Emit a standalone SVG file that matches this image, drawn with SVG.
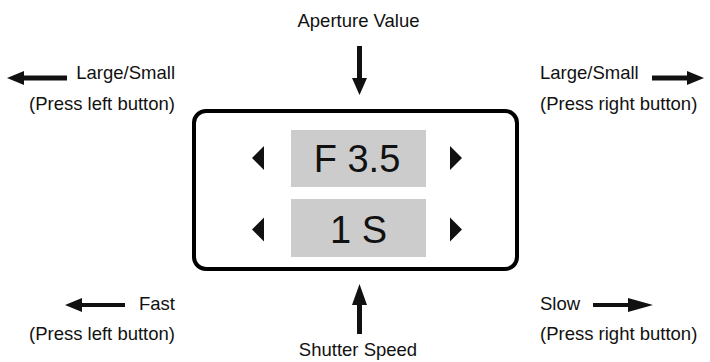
<svg xmlns="http://www.w3.org/2000/svg" width="710" height="362" viewBox="0 0 710 362">
<style>
text{font-family:"Liberation Sans",Arial,sans-serif;fill:#111}
.lbl{font-size:18.5px}
.big{font-size:38px;text-anchor:middle}
.cell{fill:#cccccc}
.tri{fill:#111}
.arr{fill:#111}
</style>
<rect width="710" height="362" fill="#fff"/>
<g id="display">
<rect x="194" y="111" width="323" height="158" rx="12" ry="12" fill="none" stroke="#000" stroke-width="4"/>
</g>
<g id="aperture-cell">
<rect class="cell" x="291" y="130" width="135" height="57"/>
<text class="big" x="357" y="172">F 3.5</text>
<polygon class="tri" points="252,158 264,146 264,170"/>
<polygon class="tri" points="462,158 450,146 450,170"/>
</g>
<g id="shutter-cell">
<rect class="cell" x="291" y="199" width="135" height="58"/>
<text class="big" x="358.5" y="243">1 S</text>
<polygon class="tri" points="252,229.5 264,217.5 264,241.5"/>
<polygon class="tri" points="462,229.5 450,217.5 450,241.5"/>
</g>
<g id="aperture-label"><text class="lbl" x="358.5" y="27" text-anchor="middle">Aperture Value</text></g>
<g id="shutter-label"><text class="lbl" x="358" y="356" text-anchor="middle">Shutter Speed</text></g>
<g id="top-left-label">
<text class="lbl" x="175" y="79" text-anchor="end">Large/Small</text>
<text class="lbl" x="175" y="110" text-anchor="end">(Press left button)</text>
</g>
<g id="top-right-label">
<text class="lbl" x="540" y="79">Large/Small</text>
<text class="lbl" x="540" y="110">(Press right button)</text>
</g>
<g id="bottom-left-label">
<text class="lbl" x="175" y="310" text-anchor="end">Fast</text>
<text class="lbl" x="175" y="340" text-anchor="end">(Press left button)</text>
</g>
<g id="bottom-right-label">
<text class="lbl" x="540" y="310">Slow</text>
<text class="lbl" x="540" y="340">(Press right button)</text>
</g>
<g id="connectors">
<polygon class="arr" points="357,46 362,46 362,78 367,78 359.5,95 352,78 357,78"/>
<polygon class="arr" points="357,334 362,334 362,305 367,305 359.5,284 352,305 357,305"/>
<polygon class="arr" points="67,75.5 67,80.5 24,80.5 24,85 7,78 24,71 24,75.5"/>
<polygon class="arr" points="652,75.5 652,80.5 687,80.5 687,85 704,78 687,71 687,75.5"/>
<polygon class="arr" points="125,303 125,307 82,307 82,312 65,305 82,298 82,303"/>
<polygon class="arr" points="593,303 593,307 628,307 628,312 653,305 628,298 628,303"/>
</g>
</svg>
